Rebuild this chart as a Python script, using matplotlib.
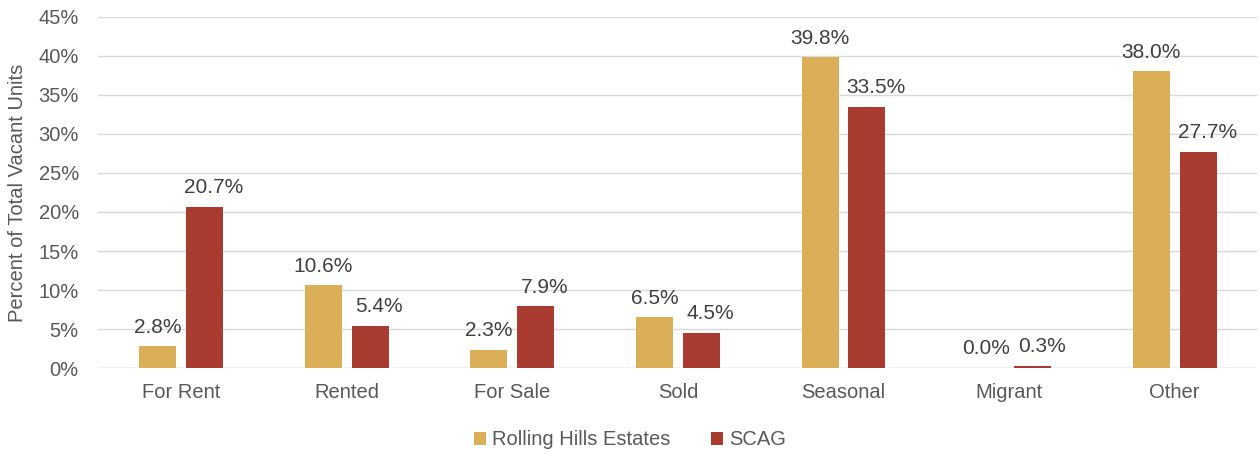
import matplotlib.pyplot as plt
import numpy as np

categories = ['For Rent', 'Rented', 'For Sale', 'Sold', 'Seasonal', 'Migrant', 'Other']
rhe = [2.8, 10.6, 2.3, 6.5, 39.8, 0.0, 38.0]
scag = [20.7, 5.4, 7.9, 4.5, 33.5, 0.3, 27.7]
yticks = [0, 5, 10, 15, 20, 25, 30, 35, 40, 45]

gold = '#DBAE58'
red = '#A93B30'
grey = '#595959'

plt.rcParams['font.family'] = ['Liberation Sans', 'DejaVu Sans']

fig = plt.figure(figsize=(12.6, 4.55), dpi=100)
ax = fig.add_axes([0.078, 0.191, 0.920, 0.772])

x = np.arange(len(categories))
w = 0.223
off = 0.03 + w / 2
b1 = ax.bar(x - off, rhe, w, color=gold, label='Rolling Hills Estates', zorder=3)
b2 = ax.bar(x + off, scag, w, color=red, label='SCAG', zorder=3)

# labels of the red series sit a little to the right, like in the original
for bars, vals, dx in ((b1, rhe, 0), (b2, scag, 6.5)):
    for b, v in zip(bars, vals):
        ax.annotate(f'{v:.1f}%', (b.get_x() + b.get_width() / 2, v),
                    xytext=(dx, 7), textcoords='offset points',
                    ha='center', va='bottom', fontsize=15, color='#404040')

ax.set_xlim(-0.5, len(categories) - 0.5)
ax.set_ylim(0, 45)
ax.set_yticks(yticks)
ax.set_yticklabels([f'{t}%' for t in yticks])
ax.set_xticks(x)
ax.set_xticklabels(categories)
ax.tick_params(axis='both', length=0, labelsize=14.5, colors=grey)
ax.tick_params(axis='y', pad=14)
ax.tick_params(axis='x', pad=11)
ax.grid(axis='y', color='#D9D9D9', linewidth=1, zorder=0)
for s in ax.spines.values():
    s.set_visible(False)
ax.axhline(0, color='#D9D9D9', linewidth=1, zorder=2)

ax.set_ylabel('Percent of Total Vacant Units', fontsize=14.5, color=grey, labelpad=8)

leg = fig.legend(loc='center', bbox_to_anchor=(0.5, 0.033), ncol=2, frameon=False,
                 fontsize=14.5, handlelength=0.6, handleheight=0.6, columnspacing=2.0,
                 handletextpad=0.3)
for t in leg.get_texts():
    t.set_color(grey)

fig.savefig('out.png', dpi=100)
